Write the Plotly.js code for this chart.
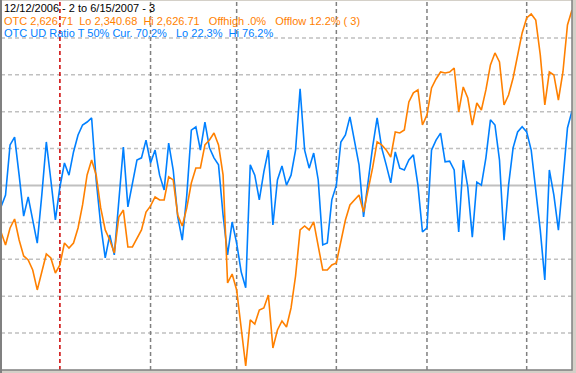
<!DOCTYPE html>
<html><head><meta charset="utf-8">
<script src="https://cdn.plot.ly/plotly-3.0.1.min.js"></script>
<style>html,body{margin:0;padding:0;background:#fff}#c{width:576px;height:373px}</style>
</head><body><div id="c"></div>
<script>
// trading-day index 0 = 12/12/2006 ... 126 = 6/15/2007
const monthStarts = [13, 33, 52, 74, 94, 116]; // Jan, Feb, Mar, Apr, May, Jun
const yearStart = 13;
const udRatio = [44.2,47.4,61.0,63.1,52.8,41.7,46.9,40.7,34.4,47.4,61.8,51.5,40.7,49.6,56.1,52.8,59.1,63.7,66.4,67.2,
68.3,51.5,39.3,30.4,36.6,31.2,46.1,60.4,44.2,50.1,56.9,57.5,62.3,56.1,59.6,52.8,48.8,61.5,54.2,41.5,
35.2,47.4,65.0,65.9,59.6,67.2,60.2,57.5,55.6,42.0,31.2,40.1,34.4,26.6,22.3,55.6,52.8,46.1,53.7,59.6,
39.3,51.5,55.3,50.1,52.8,59.6,76.2,59.6,54.7,58.8,51.5,33.9,34.4,46.1,50.1,61.8,63.7,68.6,62.3,55.6,
41.5,51.5,60.4,68.3,60.2,55.6,50.7,59.1,54.7,54.2,56.9,58.3,50.1,37.4,38.5,59.6,62.3,64.2,56.4,56.6,
54.2,37.4,56.9,49.6,36.0,50.9,50.1,57.5,67.8,66.4,56.9,35.2,50.1,60.2,64.5,65.9,64.5,59.6,48.8,37.9,
24.4,54.2,47.4,37.9,51.5,65.6,70.2];
const otc = [2448.4,2437.9,2451.6,2458.8,2441.9,2429.1,2425.9,2417.8,2401.8,2415.4,2430.7,2427.5,2415.4,2421.9,2439.5,2435.5,2439.5,2451.6,2470.1,2494.2,
2506.2,2494.2,2467.7,2450.0,2441.9,2431.5,2460.4,2466.0,2436.3,2436.3,2443.5,2450.0,2464.4,2469.3,2476.5,2474.1,2474.1,2492.6,2490.2,2462.0,
2453.2,2467.7,2487.7,2499.8,2499.8,2518.3,2522.3,2527.9,2518.3,2494.2,2407.4,2414.6,2401.8,2369.6,2340.68,2377.7,2374.4,2385.7,2387.3,2397.7,
2355.2,2369.6,2376.9,2372.0,2387.3,2413.0,2450.0,2453.2,2450.0,2456.4,2437.9,2417.8,2417.8,2421.9,2423.5,2441.9,2458.0,2470.1,2474.1,2478.1,
2464.4,2482.1,2499.8,2520.7,2518.3,2514.3,2508.6,2528.7,2527.9,2530.3,2552.8,2560.1,2562.5,2534.3,2542.4,2564.1,2571.3,2576.9,2576.1,2576.9,
2580.1,2544.8,2564.9,2556.0,2534.3,2552.0,2546.4,2562.5,2582.6,2592.2,2585.0,2550.4,2558.4,2572.1,2590.6,2608.3,2620.3,2623.5,2618.7,2590.6,
2550.4,2576.9,2574.5,2554.4,2576.9,2614.7,2626.71];
const gridLevels = [10,20,30,40,50,60,70,80,90];
const titleLines = [
  {text:"12/12/2006 - 2 to 6/15/2007 - 3", color:"#000000"},
  {text:"OTC 2,626.71  Lo 2,340.68  Hi 2,626.71   Offhigh .0%   Offlow 12.2% ( 3)", color:"#ff8000"},
  {text:"OTC UD Ratio T 50% Cur. 70.2%   Lo 22.3%  Hi 76.2%", color:"#0080ff"}
];

const idx = udRatio.map((_, i) => i);
const shapes = [];
gridLevels.forEach(v => shapes.push({type:'line', xref:'paper', x0:0, x1:1, yref:'y', y0:v, y1:v,
  line:{color: v===50 ? '#c0c0c0' : '#c0c0c0', width: v===50 ? 2 : 1.5, dash: v===50 ? 'solid' : '4px,3px'}, layer:'below'}));
monthStarts.forEach(m => shapes.push({type:'line', xref:'x', x0:m, x1:m, yref:'paper', y0:0, y1:1,
  line:{color: m===yearStart ? '#cc0000' : '#808080', width:1.5, dash:'4px,3px'}, layer:'below'}));
// frame
shapes.push({type:'line', xref:'paper', x0:0, x1:0, yref:'paper', y0:-0.01, y1:1.01, line:{color:'#808080', width:2}});
shapes.push({type:'rect', xref:'paper', x0:-0.01, x1:1.0, yref:'paper', y0:-0.0, y1:1.01, line:{color:'#808080', width:1.5}, fillcolor:'rgba(0,0,0,0)'});

const annotations = titleLines.map((t, k) => ({
  xref:'paper', yref:'paper', x:0.003, y:1 - (0 + k*12.5)/369, xanchor:'left', yanchor:'top', showarrow:false,
  text:t.text, font:{family:'Liberation Sans, Arial, sans-serif', size:11, color:t.color}, borderpad:0
}));

const data = [
  {x: idx, y: otc, yaxis:'y2', type:'scatter', mode:'lines', line:{color:'#ff8000', width:1.6}, hoverinfo:'skip'},
  {x: idx, y: udRatio, yaxis:'y', type:'scatter', mode:'lines', line:{color:'#0080ff', width:1.6}, hoverinfo:'skip'}
];
const layout = {
  width:576, height:373, margin:{l:1, r:4, t:1, b:3},
  paper_bgcolor:'#d4d0c8', plot_bgcolor:'#ffffff', showlegend:false,
  xaxis:{range:[0,126], showgrid:false, zeroline:false, showticklabels:false, ticks:'', showline:false},
  yaxis:{range:[0,100], showgrid:false, zeroline:false, showticklabels:false, ticks:'', showline:false},
  yaxis2:{range:[2337.47,2633.94], overlaying:'y', side:'right', showgrid:false, zeroline:false, showticklabels:false, ticks:'', showline:false},
  shapes, annotations
};
Plotly.newPlot('c', data, layout, {staticPlot:true, displayModeBar:false});
</script></body></html>
